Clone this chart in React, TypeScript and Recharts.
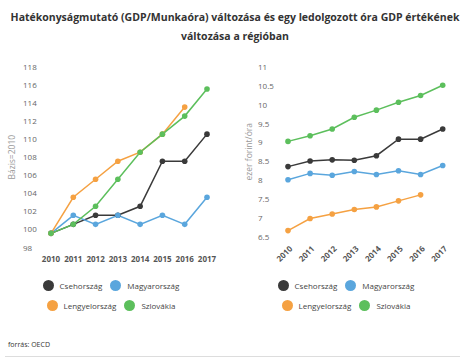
import { Label, Line, LineChart, XAxis, YAxis } from 'recharts'

const years = ['2010', '2011', '2012', '2013', '2014', '2015', '2016', '2017']

// bal oldali grafikon: Bázis=2010
const indexCseh = [100, 101, 102, 102, 103, 108, 108, 111]
const indexMagyar = [100, 102, 101, 102, 101, 102, 101, 104]
const indexLengyel = [100, 104, 106, 108, 109, 111, 114, null]
const indexSzlovak = [100, 101, 103, 106, 109, 111, 113, 116]
const indexTicks = [98, 100, 102, 104, 106, 108, 110, 112, 114, 116, 118]

// jobb oldali grafikon: ezer forint/óra
const oraCseh = [8.46, 8.61, 8.64, 8.63, 8.75, 9.19, 9.19, 9.46]
const oraMagyar = [8.11, 8.28, 8.23, 8.33, 8.25, 8.35, 8.25, 8.49]
const oraLengyel = [6.76, 7.08, 7.2, 7.32, 7.39, 7.55, 7.71, null]
const oraSzlovak = [9.13, 9.28, 9.46, 9.77, 9.96, 10.17, 10.35, 10.62]
const oraTicks = [6.5, 7, 7.5, 8, 8.5, 9, 9.5, 10, 10.5, 11]

const countries = ['Csehország', 'Magyarország', 'Lengyelország', 'Szlovákia']

const COLORS = {
  cseh: '#3a3a3a',
  magyar: '#5aa6dd',
  lengyel: '#f5a142',
  szlovak: '#5cbf5c',
}

const FONT = '"Open Sans", "Noto Sans", sans-serif'

const indexData = years.map((year, i) => ({
  year,
  cseh: indexCseh[i],
  magyar: indexMagyar[i],
  lengyel: indexLengyel[i],
  szlovak: indexSzlovak[i],
}))

const oraData = years.map((year, i) => ({
  year,
  cseh: oraCseh[i],
  magyar: oraMagyar[i],
  lengyel: oraLengyel[i],
  szlovak: oraSzlovak[i],
}))

const seriesKeys = ['cseh', 'magyar', 'lengyel', 'szlovak'] as const

function YTick({ y, payload }: any) {
  return (
    <text x={23} y={y - 3.7} dy="0.35em" textAnchor="start" fontSize={8} fill="#666" fontFamily={FONT}>
      {String(payload.value)}
    </text>
  )
}

function XTickFlat({ x, y, payload }: any) {
  return (
    <text x={x} y={y + 8} dy="0.35em" textAnchor="middle" fontSize={8} fontWeight="bold" fill="#555" fontFamily={FONT}>
      {payload.value}
    </text>
  )
}

function XTickRotated({ x, y, payload }: any) {
  return (
    <g transform={`translate(${x + 3},${y + 7}) rotate(-45)`}>
      <text x={0} y={0} dy="0.35em" textAnchor="end" fontSize={8} fontWeight="bold" fill="#555" fontFamily={FONT}>
        {payload.value}
      </text>
    </g>
  )
}

// forgatott tengelycím, fix x pozícióval
function axisTitle(text: string, cx: number) {
  return ({ viewBox }: any) => {
    const cy = viewBox.y + viewBox.height / 2 - 4
    return (
      <text
        x={cx}
        y={cy}
        transform={`rotate(-90, ${cx}, ${cy})`}
        textAnchor="middle"
        dominantBaseline="central"
        fontSize={8.5}
        fill="#999"
        fontFamily={FONT}
      >
        {text}
      </text>
    )
  }
}

function Lines() {
  return seriesKeys.map((key) => (
    <Line
      key={key}
      type="linear"
      dataKey={key}
      stroke={COLORS[key]}
      strokeWidth={1.5}
      dot={{ r: 2.8, fill: COLORS[key], stroke: 'none' }}
      activeDot={false}
      isAnimationActive={false}
    />
  ))
}

function LegendBlock({ left }: { left: number }) {
  const item = (i: number) => (
    <span style={{ display: 'inline-flex', alignItems: 'center', margin: '0 4px' }}>
      <span
        style={{
          width: 11,
          height: 11,
          borderRadius: 6,
          background: COLORS[seriesKeys[i]],
          display: 'inline-block',
          marginRight: 6,
        }}
      />
      {countries[i]}
    </span>
  )
  const row = { height: 20, display: 'flex', justifyContent: 'center', alignItems: 'center' }
  return (
    <div
      style={{
        position: 'absolute',
        left,
        top: 275,
        width: 222,
        fontSize: 8,
        color: '#444',
        fontFamily: FONT,
      }}
    >
      <div style={row}>
        {item(0)}
        {item(1)}
      </div>
      <div style={row}>
        {item(2)}
        {item(3)}
      </div>
    </div>
  )
}

export default function App() {
  return (
    <div
      style={{
        position: 'absolute',
        left: 0,
        top: 0,
        width: 470,
        height: 360,
        background: '#fff',
        fontFamily: FONT,
        overflow: 'hidden',
      }}
    >
      <div
        style={{
          position: 'absolute',
          top: 8,
          left: 0,
          width: 470,
          textAlign: 'center',
          fontSize: 10.5,
          lineHeight: '19px',
          fontWeight: 'bold',
          color: '#333',
        }}
      >
        Hatékonyságmutató (GDP/Munkaóra) változása és egy ledolgozott óra GDP értékének
        <br />
        változása a régióban
      </div>

      <div style={{ position: 'absolute', left: 0, top: 0 }}>
        <LineChart width={235} height={270} data={indexData} margin={{ top: 71, right: 28, bottom: 0, left: 0 }}>
          <XAxis
            dataKey="year"
            axisLine={false}
            tickLine={false}
            tickSize={0}
            tickMargin={0}
            height={18.6}
            interval={0}
            tick={<XTickFlat />}
          />
          <YAxis
            type="number"
            domain={[98, 118]}
            ticks={indexTicks}
            interval={0}
            axisLine={false}
            tickLine={false}
            width={51}
            tick={<YTick />}
          >
            <Label content={axisTitle('Bázis=2010', 12)} />
          </YAxis>
          {Lines()}
        </LineChart>
      </div>

      <div style={{ position: 'absolute', left: 235, top: 0 }}>
        <LineChart width={235} height={270} data={oraData} margin={{ top: 71, right: 27.3, bottom: 0, left: 0 }}>
          <XAxis
            dataKey="year"
            axisLine={false}
            tickLine={false}
            tickSize={0}
            tickMargin={0}
            height={29.6}
            interval={0}
            tick={<XTickRotated />}
          />
          <YAxis
            type="number"
            domain={[6.5, 11]}
            ticks={oraTicks}
            interval={0}
            axisLine={false}
            tickLine={false}
            width={53}
            tick={<YTick />}
          >
            <Label content={axisTitle('ezer forint/óra', 14)} />
          </YAxis>
          {Lines()}
        </LineChart>
      </div>

      <LegendBlock left={0} />
      <LegendBlock left={235} />

      <div style={{ position: 'absolute', left: 8, top: 340, fontSize: 7, color: '#333' }}>forrás: OECD</div>
      <div style={{ position: 'absolute', left: 5, top: 356, width: 455, height: 1, background: '#ddd' }} />
    </div>
  )
}
